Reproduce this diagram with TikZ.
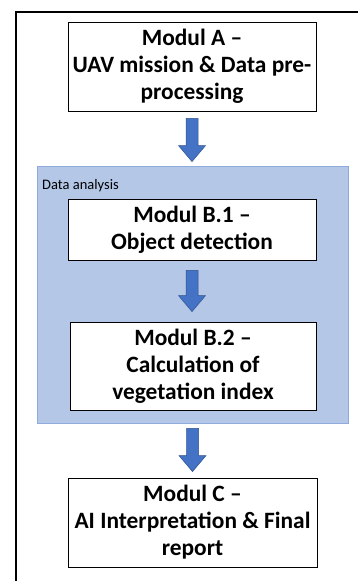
\documentclass[tikz,border=0pt]{standalone}
\usepackage{fontspec}
\setmainfont{Carlito}
\usetikzlibrary{calc}
\definecolor{panelfill}{HTML}{B4C7E7}
\definecolor{paneledge}{HTML}{8FAADC}
\definecolor{arrowfill}{HTML}{4472C4}
\definecolor{arrowedge}{HTML}{2F528F}
\tikzset{
  modbox/.style={draw=black, line width=0.8pt, fill=white, align=center,
    inner sep=0pt, font=\fontsize{23.4}{27}\selectfont\bfseries},
  panel/.style={draw=paneledge, line width=0.8pt, fill=panelfill},
  blockarrow/.style={fill=arrowfill, draw=arrowedge, line width=0.5pt},
}
% thick block arrow from the bottom of #1 to the top of #2 (#3, #4 = gaps in pt)
\newcommand\flowarrow[4]{%
  \path[blockarrow] let \p1=($(#1.south)+(0pt,-#3pt)$), \p2=($(#2.north)+(0pt,#4pt)$) in
    (\x1-6pt,\y1) -- (\x1+6pt,\y1) -- (\x1+6pt,\y2+16pt) -- (\x1+13.5pt,\y2+16pt)
    -- (\x1,\y2) -- (\x1-13.5pt,\y2+16pt) -- (\x1-6pt,\y2+16pt) -- cycle;
}
\begin{document}
\begin{tikzpicture}[x=1pt,y=-1pt]
  \useasboundingbox (0,0) rectangle (357,581);
  % outer frame (left and top edges)
  \draw[line width=2.7pt] (16,590) -- (16,12) -- (365,12);

  % data analysis panel
  \node[panel, minimum width=311pt, minimum height=257pt] (panel) at (192.5,294.5) {};
  \node[anchor=base west, inner sep=0pt, font=\fontsize{14.5}{17}\selectfont] (lbl) at (42,189) {Data analysis};

  \node[modbox, minimum width=248pt, minimum height=89pt] (A) at (192,66.5)
    {Modul A –\\UAV mission \& Data pre-\\processing};
  \node[modbox, minimum width=248pt, minimum height=61pt] (B1) at (192,229.5)
    {Modul B.1 –\\Object detection};
  \node[modbox, minimum width=246pt, minimum height=88pt] (B2) at (193,366)
    {Modul B.2 –\\Calculation of\\vegetation index};
  \node[modbox, minimum width=249pt, minimum height=89pt] (C) at (192.5,522.5)
    {Modul C –\\AI Interpretation \& Final\\report};

  \flowarrow{A}{panel}{7}{4}
  \flowarrow{B1}{B2}{10}{10}
  \flowarrow{panel}{C}{5}{6}
\end{tikzpicture}
\end{document}
